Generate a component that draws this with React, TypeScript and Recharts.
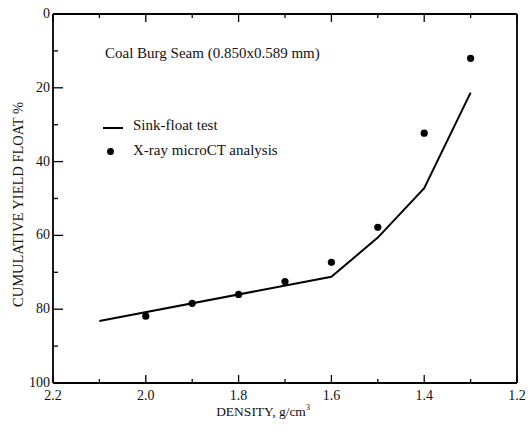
import React from 'react'
import { ComposedChart, Line, Scatter, XAxis, YAxis } from 'recharts'

// sink-float curve (straight segment from 2.1 down to 1.6, then steepening)
const sinkDensity = [2.1, 1.6, 1.5, 1.4, 1.3]
const sinkYield = [83.2, 71.2, 60.6, 47.2, 21.3]

// X-ray microCT points
const ctDensity = [2.0, 1.9, 1.8, 1.7, 1.6, 1.5, 1.4, 1.3]
const ctYield = [81.9, 78.4, 76.0, 72.5, 67.3, 57.8, 32.3, 12.0]

const xTicks = [2.2, 2.1, 2.0, 1.9, 1.8, 1.7, 1.6, 1.5, 1.4, 1.3, 1.2]
const yTicks = [0, 10, 20, 30, 40, 50, 60, 70, 80, 90, 100]

const FONT = '"Liberation Serif", "Times New Roman", serif'

const lineData = sinkDensity.map((x, i) => ({ x, y: sinkYield[i] }))
const scatterData = ctDensity.map((x, i) => ({ x, y: ctYield[i] }))

const isMajorX = (v: number) => Math.round(v * 10) % 2 === 0
const isMajorY = (v: number) => v % 20 === 0

const BottomTick = (props: any) => {
  const { x, y, payload } = props
  const major = isMajorX(payload.value)
  return (
    <g>
      <line x1={x} y1={y} x2={x} y2={y - (major ? 8 : 4)} stroke="#000" strokeWidth={1.3} />
      {major && (
        <text x={x} y={y + 17} textAnchor="middle" fontSize={14} fontFamily={FONT} fill="#111">
          {payload.value.toFixed(1)}
        </text>
      )}
    </g>
  )
}

const TopTick = (props: any) => {
  const { x, y, payload } = props
  const major = isMajorX(payload.value)
  return <line x1={x} y1={y} x2={x} y2={y + (major ? 8 : 4)} stroke="#000" strokeWidth={1.3} />
}

const LeftTick = (props: any) => {
  const { x, y, payload } = props
  const major = isMajorY(payload.value)
  return (
    <g>
      <line x1={x} y1={y} x2={x + (major ? 10 : 5)} y2={y} stroke="#000" strokeWidth={1.3} />
      {major && (
        <text x={x - 3} y={y + 4} textAnchor="end" fontSize={14} fontFamily={FONT} fill="#111">
          {payload.value}
        </text>
      )}
    </g>
  )
}

const RightTick = (props: any) => {
  const { x, y, payload } = props
  const major = isMajorY(payload.value)
  return <line x1={x} y1={y} x2={x - (major ? 10 : 5)} y2={y} stroke="#000" strokeWidth={1.3} />
}

const Dot = (props: any) => <circle cx={props.cx} cy={props.cy} r={3.6} fill="#000" />

export default function App() {
  return (
    <div style={{ position: 'absolute', left: 0, top: 0, width: 528, height: 433, background: '#fff' }}>
      <ComposedChart width={528} height={433} margin={{ top: 0, right: 0, bottom: 0, left: 0 }}>
        <XAxis
          xAxisId="bottom"
          type="number"
          dataKey="x"
          domain={[1.2, 2.2]}
          reversed
          ticks={xTicks}
          interval={0}
          height={50}
          tickSize={0}
          tickMargin={0}
          tickLine={false}
          tick={BottomTick}
          axisLine={{ stroke: '#000', strokeWidth: 1.8 }}
          allowDataOverflow
          label={(p: any) => {
            const vb = p.viewBox
            return (
              <text x={vb.x + vb.width / 2 - 22} y={vb.y + 33} textAnchor="middle" fontSize={13.5} fontFamily={FONT} fill="#111">
                DENSITY, g/cm<tspan dy={-6} fontSize={8}>3</tspan>
              </text>
            )
          }}
        />
        <XAxis
          xAxisId="top"
          orientation="top"
          type="number"
          dataKey="x"
          domain={[1.2, 2.2]}
          reversed
          ticks={xTicks}
          interval={0}
          height={14}
          tickSize={0}
          tickMargin={0}
          tickLine={false}
          tick={TopTick}
          axisLine={{ stroke: '#000', strokeWidth: 1.8 }}
          allowDataOverflow
        />
        <YAxis
          yAxisId="left"
          type="number"
          domain={[0, 100]}
          reversed
          ticks={yTicks}
          interval={0}
          width={53}
          tickSize={0}
          tickMargin={0}
          tickLine={false}
          tick={LeftTick}
          axisLine={{ stroke: '#000', strokeWidth: 1.8 }}
          label={(p: any) => {
            const vb = p.viewBox
            const cx = vb.x + 18
            const cy = vb.y + vb.height / 2 + 6
            return (
              <text
                x={cx}
                y={cy}
                transform={`rotate(-90 ${cx} ${cy})`}
                textAnchor="middle"
                dominantBaseline="central"
                fontSize={14.5}
                fontFamily={FONT}
                fill="#111"
              >
                CUMULATIVE YIELD FLOAT %
              </text>
            )
          }}
        />
        <YAxis
          yAxisId="right"
          orientation="right"
          type="number"
          domain={[0, 100]}
          reversed
          ticks={yTicks}
          interval={0}
          width={11}
          tickSize={0}
          tickMargin={0}
          tickLine={false}
          tick={RightTick}
          axisLine={{ stroke: '#000', strokeWidth: 1.8 }}
        />
        <Line
          xAxisId="bottom"
          yAxisId="left"
          data={lineData}
          dataKey="y"
          type="linear"
          stroke="#000"
          strokeWidth={2}
          dot={false}
          activeDot={false}
          name="Sink-float test"
          isAnimationActive={false}
        />
        <Scatter
          xAxisId="bottom"
          yAxisId="left"
          data={scatterData}
          dataKey="y"
          fill="#000"
          shape={Dot}
          name="X-ray microCT analysis"
          isAnimationActive={false}
        />
      </ComposedChart>

      <div style={{ position: 'absolute', left: 105, top: 45, fontFamily: FONT, fontSize: 15, color: '#111', whiteSpace: 'nowrap' }}>
        Coal Burg Seam (0.850x0.589 mm)
      </div>
      <div style={{ position: 'absolute', left: 103, top: 127, width: 20, height: 2, background: '#000' }} />
      <div style={{ position: 'absolute', left: 133, top: 117, fontFamily: FONT, fontSize: 15, color: '#111', whiteSpace: 'nowrap' }}>
        Sink-float test
      </div>
      <div style={{ position: 'absolute', left: 107, top: 148, width: 7, height: 7, borderRadius: '50%', background: '#000' }} />
      <div style={{ position: 'absolute', left: 133, top: 142, fontFamily: FONT, fontSize: 15, color: '#111', whiteSpace: 'nowrap' }}>
        X-ray microCT analysis
      </div>
    </div>
  )
}
